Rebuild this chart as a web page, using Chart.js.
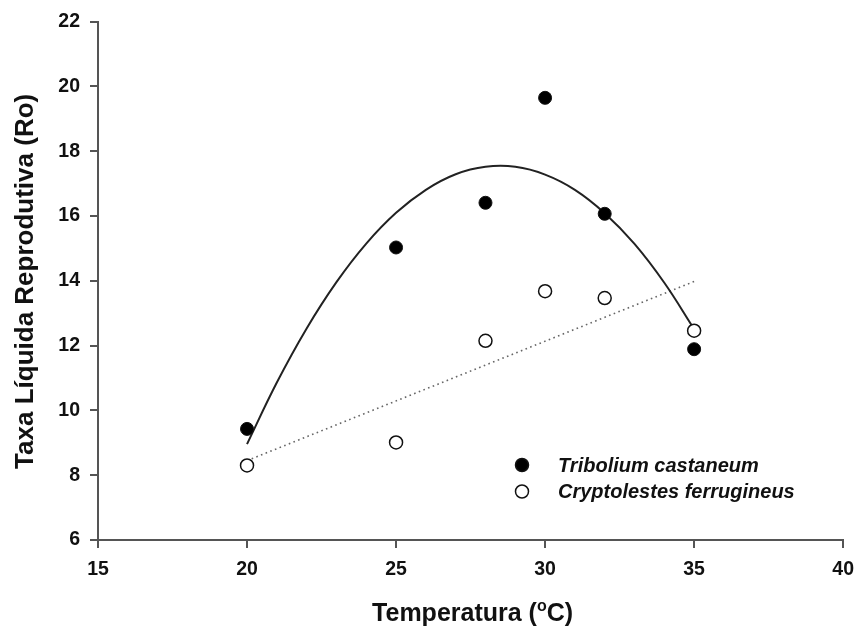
<!DOCTYPE html>
<html>
<head>
<meta charset="utf-8">
<title>Taxa Líquida Reprodutiva</title>
<script src="https://cdn.jsdelivr.net/npm/chart.js@4/dist/chart.umd.min.js"></script>
<style>
  html, body { margin: 0; padding: 0; background: #ffffff; }
  #wrap { width: 864px; height: 632px; position: relative; }
</style>
</head>
<body>
<div id="wrap"><canvas id="chart" width="864" height="632"></canvas></div>
<script>
// Temperatures tested (°C)
const temperatures = [20, 25, 28, 30, 32, 35];

// Net reproductive rate (Ro) per species
const triboliumRo    = [9.43, 15.03, 16.41, 19.65, 16.07, 11.89];
const cryptolestesRo = [8.30, 9.01, 12.15, 13.68, 13.47, 12.46];

// Quadratic trend for Tribolium castaneum, sampled along the temperature range
const triboliumTrendX = [20, 21, 22, 23, 24, 25, 26, 27, 28, 29, 30, 31, 32, 33, 34, 35];
const triboliumTrendY = [8.96, 10.86, 12.53, 13.96, 15.15, 16.10, 16.81, 17.29, 17.52, 17.52,
                         17.28, 16.81, 16.09, 15.14, 13.94, 12.51];

// Linear trend for Cryptolestes ferrugineus
const cryptolestesTrendX = [20, 35];
const cryptolestesTrendY = [8.45, 13.98];

// Axis ranges and tick steps
const xRange = [15, 40];
const xStep = 5;
const yRange = [6, 22];
const yStep = 2;

const seriesNames = ['Tribolium castaneum', 'Cryptolestes ferrugineus'];
const xTitleParts = ['Temperatura (', 'o', 'C)'];
const yTitle = 'Taxa Líquida Reprodutiva (Ro)';

const toPoints = (xs, ys) => xs.map((x, i) => ({ x: x, y: ys[i] }));

const FONT = "'Liberation Sans', Arial, Helvetica, sans-serif";
const AXIS_COLOR = '#555555';

// Axis titles and in-plot legend
const annotations = {
  id: 'annotations',
  afterDraw(chart) {
    const ctx = chart.ctx;
    const area = chart.chartArea;
    ctx.save();
    ctx.fillStyle = '#111111';

    // y-axis title
    ctx.save();
    ctx.translate(33, (area.top + area.bottom) / 2 + 0.5);
    ctx.rotate(-Math.PI / 2);
    ctx.font = 'bold 26px ' + FONT;
    ctx.textAlign = 'center';
    ctx.textBaseline = 'alphabetic';
    ctx.fillText(yTitle, 0, 0);
    ctx.restore();

    // x-axis title with superscript degree "o"
    const big = 'bold 25px ' + FONT;
    const small = 'bold 16px ' + FONT;
    ctx.font = big;
    const w0 = ctx.measureText(xTitleParts[0]).width;
    const w2 = ctx.measureText(xTitleParts[2]).width;
    ctx.font = small;
    const w1 = ctx.measureText(xTitleParts[1]).width;
    const total = w0 + w1 + w2;
    let tx = (area.left + area.right) / 2 + 2 - total / 2;
    const base = 621;
    ctx.textAlign = 'left';
    ctx.textBaseline = 'alphabetic';
    ctx.font = big;
    ctx.fillText(xTitleParts[0], tx, base);
    tx += w0;
    ctx.font = small;
    ctx.fillText(xTitleParts[1], tx, base - 10);
    tx += w1;
    ctx.font = big;
    ctx.fillText(xTitleParts[2], tx, base);

    // legend
    const lx = 522, ly = [465, 491.5];
    ctx.font = 'italic bold 20px ' + FONT;
    ctx.textBaseline = 'middle';
    [0, 1].forEach(i => {
      ctx.beginPath();
      ctx.arc(lx, ly[i], 6.5, 0, Math.PI * 2);
      ctx.fillStyle = i === 0 ? '#000000' : '#ffffff';
      ctx.fill();
      ctx.lineWidth = 1.5;
      ctx.strokeStyle = '#111111';
      ctx.stroke();
      ctx.fillStyle = '#111111';
      ctx.fillText(seriesNames[i], 558, ly[i] + 1);
    });
    ctx.restore();
  }
};

const tickFont = { family: FONT, size: 19.5, weight: 'bold' };

new Chart(document.getElementById('chart'), {
  type: 'scatter',
  data: {
    datasets: [
      {
        label: seriesNames[0],
        data: toPoints(temperatures, triboliumRo),
        pointRadius: 6.5,
        pointHoverRadius: 6.5,
        pointBackgroundColor: '#000000',
        pointBorderColor: '#111111',
        pointBorderWidth: 1,
        order: 0
      },
      {
        label: seriesNames[1],
        data: toPoints(temperatures, cryptolestesRo),
        pointRadius: 6.5,
        pointHoverRadius: 6.5,
        pointBackgroundColor: '#ffffff',
        pointBorderColor: '#111111',
        pointBorderWidth: 1.5,
        order: 0
      },
      {
        label: 'trend-tribolium',
        data: toPoints(triboliumTrendX, triboliumTrendY),
        showLine: true,
        pointRadius: 0,
        borderColor: '#222222',
        borderWidth: 2,
        tension: 0.4,
        order: 1
      },
      {
        label: 'trend-cryptolestes',
        data: toPoints(cryptolestesTrendX, cryptolestesTrendY),
        showLine: true,
        pointRadius: 0,
        borderColor: '#666666',
        borderWidth: 1.6,
        borderDash: [1.6, 3.4],
        order: 1
      }
    ]
  },
  options: {
    responsive: false,
    animation: false,
    layout: { padding: { left: 0, top: 21, right: 20, bottom: 0 } },
    plugins: {
      legend: { display: false },
      tooltip: { enabled: false },
      title: { display: false }
    },
    scales: {
      x: {
        type: 'linear',
        min: xRange[0],
        max: xRange[1],
        ticks: { stepSize: xStep, color: '#111111', font: tickFont, padding: 10 },
        grid: { drawOnChartArea: false, drawTicks: true, tickLength: 8, color: AXIS_COLOR, lineWidth: 2 },
        border: { display: true, color: AXIS_COLOR, width: 2 },
        afterFit(scale) { scale.height = 92; }
      },
      y: {
        type: 'linear',
        min: yRange[0],
        max: yRange[1],
        ticks: { stepSize: yStep, color: '#111111', font: tickFont, padding: 10 },
        grid: { drawOnChartArea: false, drawTicks: true, tickLength: 8, color: AXIS_COLOR, lineWidth: 2 },
        border: { display: true, color: AXIS_COLOR, width: 2 },
        afterFit(scale) { scale.width = 98; }
      }
    }
  },
  plugins: [annotations]
});
</script>
</body>
</html>
